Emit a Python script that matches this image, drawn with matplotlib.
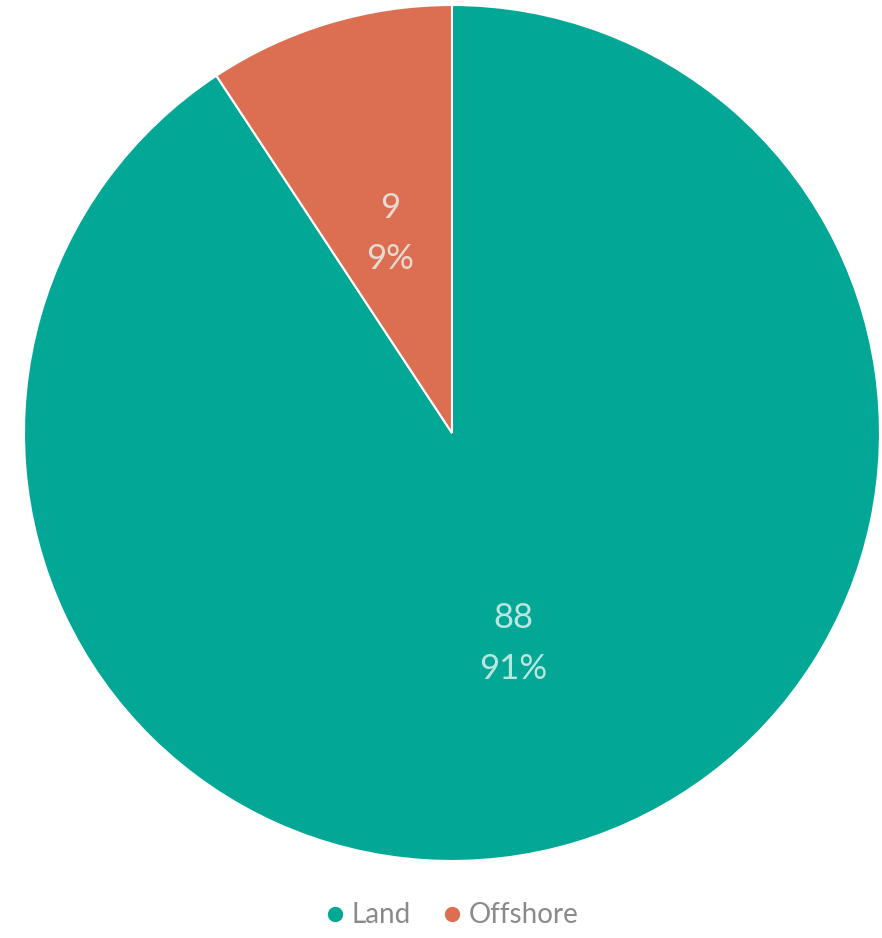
import matplotlib.pyplot as plt
from matplotlib.lines import Line2D

# data
categories = ['Land', 'Offshore']
values = [88, 9]
colors = ['#02a796', '#dc6f52']

plt.rcParams['font.family'] = ['Lato', 'DejaVu Sans']

fig = plt.figure(figsize=(8.82, 9.38), dpi=100)
ax = fig.add_axes([0.0272, 0.0821, 0.9705, 0.9126])

total = sum(values)


def fmt(pct):
    v = int(round(pct * total / 100.0))
    return f'{v}\n{pct:.0f}%'


wedges, texts, autotexts = ax.pie(values, colors=colors, startangle=90, counterclock=False,
                                  autopct=fmt, pctdistance=0.5, radius=1,
                                  wedgeprops=dict(edgecolor='white', linewidth=1.5))
for t in autotexts:
    t.set_color('#eaf6f4')
    t.set_fontsize(25)
    t.set_linespacing(1.7)
    t.set_alpha(0.8)
    x, y = t.get_position()
    t.set_position((x, y - 0.013))  # labels sit a touch lower in the original

ax.set_xlim(-1, 1)
ax.set_ylim(-1, 1)
ax.set_aspect('equal')
ax.axis('off')

handles = [Line2D([0], [0], marker='o', linestyle='', markersize=10,
                  markerfacecolor=c, markeredgecolor=c) for c in colors]
fig.legend(handles, categories, loc='center', bbox_to_anchor=(0.51, 0.024), ncol=2,
           frameon=False, fontsize=20, labelcolor='#8a8a8a',
           handlelength=1.0, handletextpad=0.1, columnspacing=1.0)

fig.savefig('out.png', dpi=100)
